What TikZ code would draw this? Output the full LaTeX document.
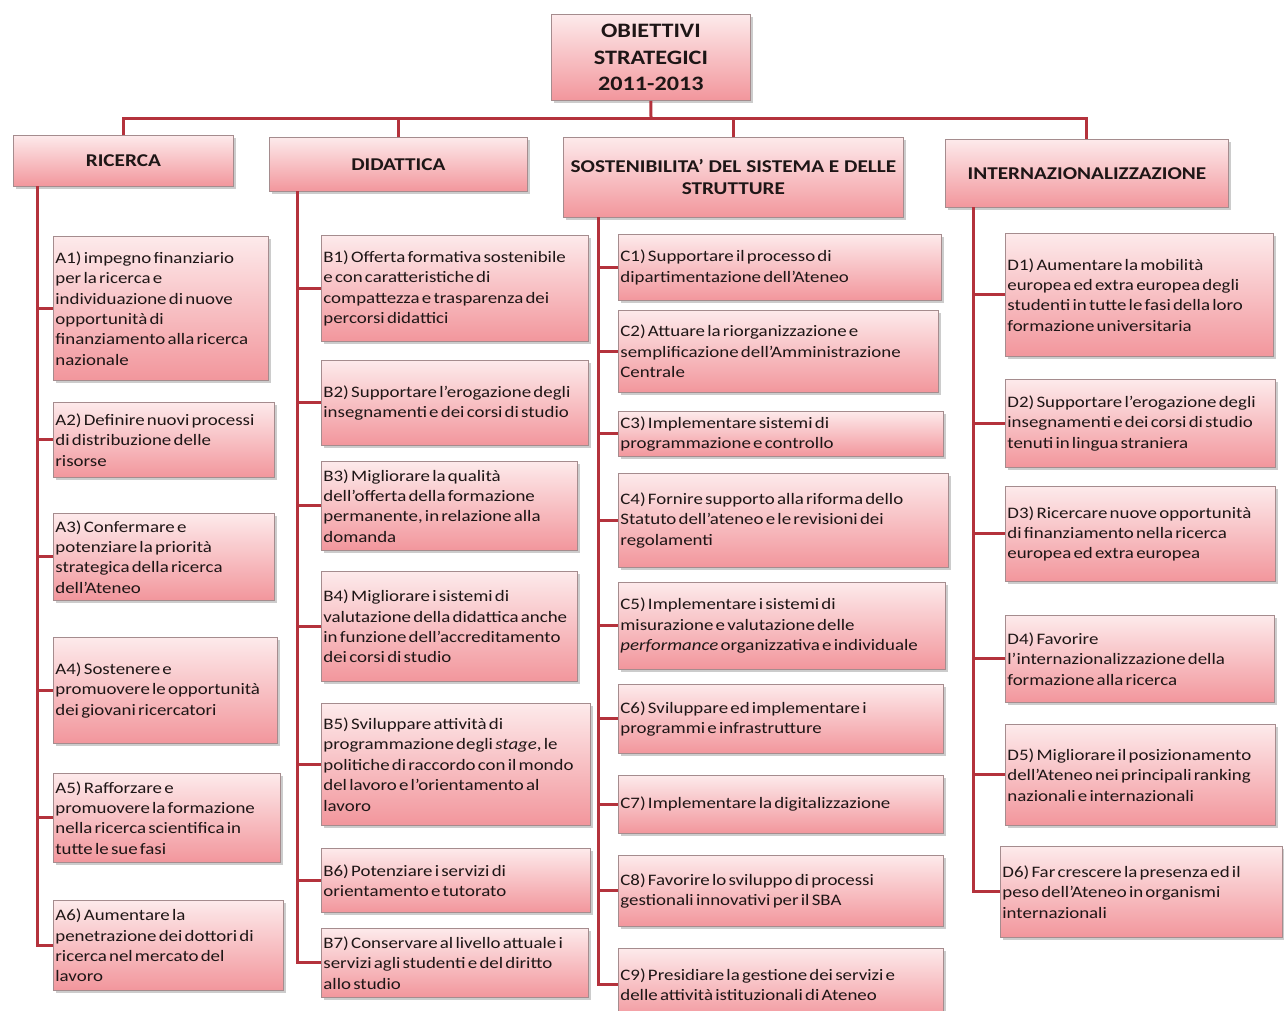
\documentclass[tikz,border=0pt]{standalone}
\usepackage{fontspec}
\setmainfont{Carlito}[FakeStretch=1.18]
\usetikzlibrary{shadows}

\definecolor{linkred}{RGB}{180,50,60}
\definecolor{boxtop}{RGB}{253,234,235}
\definecolor{boxbottom}{RGB}{242,150,156}
\definecolor{boxline}{RGB}{165,140,142}
\definecolor{textdark}{RGB}{30,22,22}

\begin{document}
\begin{tikzpicture}[x=1pt, y=-1pt]
	\tikzstyle{boxStyle} = [draw=boxline, line width=0.8pt, top color=boxtop, bottom color=boxbottom, drop shadow={shadow xshift=2.5pt, shadow yshift=-2.5pt, opacity=0.4}, text=textdark, inner ysep=0pt]
	\tikzstyle{goalStyle} = [boxStyle, font=\bfseries\fontsize{20.5}{26.5}\selectfont, align=center, anchor=north west]
	\tikzstyle{areaStyle} = [boxStyle, font=\bfseries\fontsize{18}{22}\selectfont, align=center, anchor=north west]
	\tikzstyle{itemStyle} = [boxStyle, font=\fontsize{16}{20.4}\selectfont, align=left, anchor=north west, inner xsep=2pt, execute at begin node={\spaceskip=0.14em minus 0.03em\hyphenpenalty=10000\relax}]
	\tikzstyle{linkStyle} = [draw=linkred, line width=3pt]
	\useasboundingbox (0,0) rectangle (1284,1010);
	\node[goalStyle, minimum width=199, minimum height=86] (goal) at (551,14) {OBIETTIVI\\STRATEGICI\\2011-2013};
	\node[areaStyle, minimum width=220, minimum height=51] (ric) at (13,135) {RICERCA};
	\node[areaStyle, minimum width=258, minimum height=54] (did) at (269,137) {DIDATTICA};
	\node[areaStyle, minimum width=340, minimum height=80] (sos) at (563,137) {SOSTENIBILITA’ DEL SISTEMA E DELLE\\STRUTTURE};
	\node[areaStyle, minimum width=283, minimum height=68] (int) at (945,139) {INTERNAZIONALIZZAZIONE};
	% ricerca
	\node[itemStyle, text width=211, minimum height=144] (a1) at (53,236) {A1) impegno finanziario\\per la ricerca e\\individuazione di nuove\\opportunità di\\finanziamento alla ricerca\\nazionale};
	\node[itemStyle, text width=217, minimum height=75] (a2) at (53,402) {A2) Definire nuovi processi\\di distribuzione delle\\risorse};
	\node[itemStyle, text width=217, minimum height=87] (a3) at (53,513) {A3) Confermare e\\potenziare la priorità\\strategica della ricerca\\dell’Ateneo};
	\node[itemStyle, text width=220, minimum height=106] (a4) at (53,637) {A4) Sostenere e\\promuovere le opportunità\\dei giovani ricercatori};
	\node[itemStyle, text width=223, minimum height=89] (a5) at (53,773) {A5) Rafforzare e\\promuovere la formazione\\nella ricerca scientifica in\\tutte le sue fasi};
	\node[itemStyle, text width=226, minimum height=90] (a6) at (53,900) {A6) Aumentare la\\penetrazione dei dottori di\\ricerca nel mercato del\\lavoro};
	% didattica
	\node[itemStyle, text width=263, minimum height=106] (b1) at (321,235) {B1) Offerta formativa sostenibile\\e con caratteristiche di\\compattezza e trasparenza dei\\percorsi didattici};
	\node[itemStyle, text width=263, minimum height=85] (b2) at (321,360) {B2) Supportare l’erogazione degli\\insegnamenti e dei corsi di studio};
	\node[itemStyle, text width=252, minimum height=89] (b3) at (321,461) {B3) Migliorare la qualità\\dell’offerta della formazione\\permanente, in relazione alla\\domanda};
	\node[itemStyle, text width=252, minimum height=110] (b4) at (321,571) {B4) Migliorare i sistemi di\\valutazione della didattica anche\\in funzione dell’accreditamento\\dei corsi di studio};
	\node[itemStyle, text width=265, minimum height=122] (b5) at (321,703) {B5) Sviluppare attività di\\programmazione degli \textit{stage}, le\\politiche di raccordo con il mondo\\del lavoro e l’orientamento al\\lavoro};
	\node[itemStyle, text width=265, minimum height=64] (b6) at (321,848) {B6) Potenziare i servizi di\\orientamento e tutorato};
	\node[itemStyle, text width=263, minimum height=69] (b7) at (321,928) {B7) Conservare al livello attuale i\\servizi agli studenti e del diritto\\allo studio};
	% sostenibilita
	\node[itemStyle, text width=319, minimum height=66] (c1) at (618,234) {C1) Supportare il processo di\\dipartimentazione dell’Ateneo};
	\node[itemStyle, text width=316, minimum height=82] (c2) at (618,310) {C2) Attuare la riorganizzazione e\\semplificazione dell’Amministrazione\\Centrale};
	\node[itemStyle, text width=321, minimum height=45] (c3) at (618,411) {C3) Implementare sistemi di\\programmazione e controllo};
	\node[itemStyle, text width=326, minimum height=94] (c4) at (618,473) {C4) Fornire supporto alla riforma dello\\Statuto dell’ateneo e le revisioni dei\\regolamenti};
	\node[itemStyle, text width=323, minimum height=87] (c5) at (618,582) {C5) Implementare i sistemi di\\misurazione e valutazione delle\\\textit{performance} organizzativa e individuale};
	\node[itemStyle, text width=321, minimum height=69] (c6) at (618,684) {C6) Sviluppare ed implementare i\\programmi e infrastrutture};
	\node[itemStyle, text width=321, minimum height=58] (c7) at (618,775) {C7) Implementare la digitalizzazione};
	\node[itemStyle, text width=321, minimum height=71] (c8) at (618,855) {C8) Favorire lo sviluppo di processi\\gestionali innovativi per il SBA};
	\node[itemStyle, text width=321, minimum height=72] (c9) at (618,948) {C9) Presidiare la gestione dei servizi e\\delle attività istituzionali di Ateneo};
	% internazionalizzazione
	\node[itemStyle, text width=264, minimum height=123] (d1) at (1005,233) {D1) Aumentare la mobilità\\europea ed extra europea degli\\studenti in tutte le fasi della loro\\formazione universitaria};
	\node[itemStyle, text width=266, minimum height=88] (d2) at (1005,379) {D2) Supportare l’erogazione degli\\insegnamenti e dei corsi di studio\\tenuti in lingua straniera};
	\node[itemStyle, text width=266, minimum height=95] (d3) at (1005,486) {D3) Ricercare nuove opportunità\\di finanziamento nella ricerca\\europea ed extra europea};
	\node[itemStyle, text width=265, minimum height=87] (d4) at (1005,615) {D4) Favorire\\l’internazionalizzazione della\\formazione alla ricerca};
	\node[itemStyle, text width=266, minimum height=101] (d5) at (1005,724) {D5) Migliorare il posizionamento\\dell’Ateneo nei principali ranking\\nazionali e internazionali};
	\node[itemStyle, text width=278, minimum height=91] (d6) at (1000,846) {D6) Far crescere la presenza ed il\\peso dell’Ateneo in organismi\\internazionali};
	% links
	\coordinate (bus) at (651,118);
	\coordinate (ra) at (37,186);
	\coordinate (rb) at (297,191);
	\coordinate (rc) at (598,217);
	\coordinate (rd) at (973,207);
	\draw[linkStyle] (goal.south) -- (bus);
	\draw[linkStyle] (ric.north) |- (bus) -| (int.north);
	\draw[linkStyle] (did.north) -- (did.north |- bus);
	\draw[linkStyle] (sos.north) -- (sos.north |- bus);
	\draw[linkStyle] (ra) |- (a6.west);
	\foreach \n in {a1,a2,a3,a4,a5}
		\draw[linkStyle] (ra |- \n.west) -- (\n.west);
	\draw[linkStyle] (rb) |- (b7.west);
	\foreach \n in {b1,b2,b3,b4,b5,b6}
		\draw[linkStyle] (rb |- \n.west) -- (\n.west);
	\draw[linkStyle] (rc) |- (c9.west);
	\foreach \n in {c1,c2,c3,c4,c5,c6,c7,c8}
		\draw[linkStyle] (rc |- \n.west) -- (\n.west);
	\draw[linkStyle] (rd) |- (d6.west);
	\foreach \n in {d1,d2,d3,d4,d5}
		\draw[linkStyle] (rd |- \n.west) -- (\n.west);
\end{tikzpicture}
\end{document}
